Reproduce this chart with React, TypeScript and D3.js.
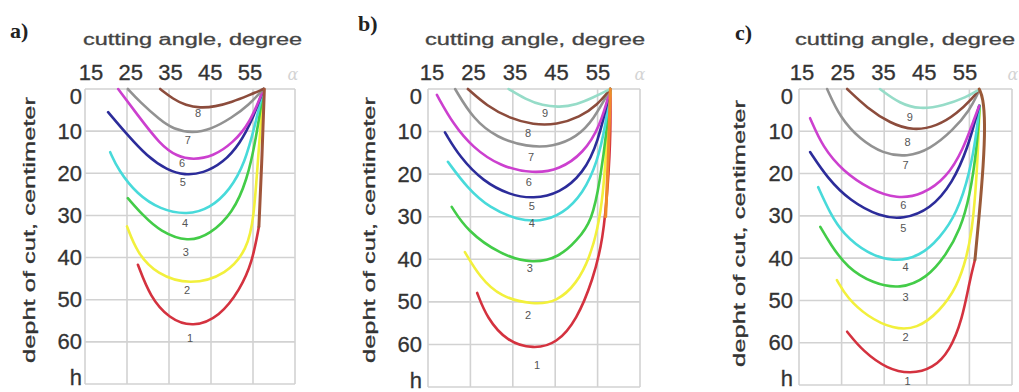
import React from 'react';
import * as d3 from 'd3';

type P = [number, number];

// ---------- shared axis data ----------
const xTickValues = [15, 25, 35, 45, 55];
const yTickValues = [0, 10, 20, 30, 40, 50, 60, 70];
const yTickTexts = ['0', '10', '20', '30', '40', '50', '60', 'h'];
const gridAngles = [15, 25, 35, 45, 55, 65];
const gridDepths = [0, 10, 20, 30, 40, 50, 60, 70];
const titleText = 'cutting angle, degree';
const yAxisText = 'depht of cut, centimeter';
const curveColors = ['#d4323f', '#f2f03c', '#43cc48', '#48dada', '#2c2c9a', '#cc40cf', '#929292', '#8c4c3c', '#96dcc8'];
const tailColorA = '#a0553a';
const tailColorB = '#f08a2a';
const tailColorC = '#9a5a38';

// ---------- panel a: [angle, depth] ----------
const a1: P[] = [[27.6, 41.7], [30.5, 49.3], [35, 54.5], [40.7, 56.6], [47.1, 54], [51.9, 47.6], [54.8, 41.2], [56.4, 32.7]];
const a2: P[] = [[25, 32.6], [27.4, 38.9], [32.1, 44], [40, 46.6], [48.8, 44], [53.6, 38], [55.2, 31], [56.3, 15], [57.5, 0]];
const a3: P[] = [[25.2, 25.9], [28.8, 30], [32.9, 33.8], [39.5, 36.4], [44.8, 34.5], [50.2, 29.4], [53.6, 21.6], [55.7, 12], [57.5, 0]];
const a4: P[] = [[21, 15], [22.9, 19.2], [27.4, 25], [32.9, 28.6], [39.3, 29.9], [44.8, 28.3], [49.5, 24], [53.1, 17.5], [55.5, 8.5], [57.5, 0]];
const a5: P[] = [[20.5, 5.5], [25, 10.8], [29.8, 16], [34.5, 19.2], [38.8, 20.5], [43.1, 20], [47.9, 17.5], [51.9, 13], [55, 7], [57.5, 0]];
const a6: P[] = [[22.9, 0], [27.4, 6], [32.9, 13.2], [36.9, 16], [40.7, 16.8], [45.5, 16], [50.2, 12.8], [54.3, 8.1], [57.5, 0]];
const a7: P[] = [[25.2, 0], [28, 3], [32.9, 7.4], [36, 9.5], [40.5, 10.5], [45, 9.6], [50, 6.8], [54, 3.8], [57.5, 0]];
const a8: P[] = [[32.9, 0], [36, 2.4], [39, 3.9], [42.4, 4.5], [46, 4.2], [50, 3.1], [54, 1.5], [57.5, 0]];
const aTail: P[] = [[56.4, 32.7], [57.2, 15], [57.7, 0]];
const aLabels: P[] = [[40, 59], [39.3, 47.6], [39, 38.6], [38.8, 31.7], [38.3, 22], [38.1, 17.5], [39.5, 12], [41.9, 5.7]];

// ---------- panel b ----------
const b1: P[] = [[26.6, 47.9], [28.9, 53.8], [33.6, 59.3], [39.8, 61.1], [45.4, 59.8], [50.1, 54.2], [53.9, 44.8], [56.3, 35.4], [57.5, 22], [58.1, 10], [58, 0]];
const b2: P[] = [[23.7, 38.3], [27.3, 44.3], [32, 48.8], [39.8, 50.7], [45.4, 50], [50.1, 45.7], [53.2, 39.4], [55, 33], [56.3, 25], [57.2, 12], [58, 0]];
const b3: P[] = [[20.6, 27.7], [24.2, 33.3], [32, 38.9], [39.8, 41.1], [46.1, 39.4], [50.1, 35.6], [53.7, 31], [55.6, 21.4], [57.2, 9.6], [58, 0]];
const b4: P[] = [[19.7, 17.1], [24.2, 23.2], [29.6, 28], [36, 30.7], [41.4, 31.2], [46.8, 29.4], [51.6, 24.5], [54.9, 17.4], [57, 8], [58, 0]];
const b5: P[] = [[19, 10.2], [22.5, 16], [28, 21.7], [34.3, 24.9], [39.8, 25.8], [46.1, 24.5], [51.6, 19.8], [55.1, 12.8], [58, 0]];
const b6: P[] = [[17.1, 1.4], [20.9, 8.2], [25.6, 13.8], [32, 18.2], [39.8, 19.9], [46.1, 18.9], [51.6, 15.1], [55.6, 8.8], [58, 0]];
const b7: P[] = [[21.4, 0], [25.6, 7], [31.3, 11.5], [38.3, 13.6], [44.5, 13.6], [50.1, 11.3], [54, 7.3], [58, 0]];
const b8: P[] = [[24.4, 0], [28.9, 4], [34.3, 6.9], [39.8, 8.4], [45.4, 8.4], [50.8, 6.6], [54.9, 3.8], [58, 0]];
const b9: P[] = [[34, 0], [38, 2.4], [42, 3.9], [46, 4.3], [50, 3.7], [54, 2], [58, 0]];
const bTail: P[] = [[56.9, 30], [57.6, 15], [58, 0]];
const bLabels: P[] = [[40.7, 64.8], [38.6, 53], [39, 42], [39.5, 31.5], [39.5, 27.5], [38.8, 21.8], [39.3, 16], [38.6, 10.3], [42.6, 5.6]];

// ---------- panel c ----------
const c1: P[] = [[26.3, 57.4], [30, 62], [35.7, 66.2], [41.1, 67.4], [46.5, 66.1], [50.4, 61.9], [53.3, 54.6], [55.1, 45.2], [56.3, 40.4]];
const c2: P[] = [[23.9, 45.2], [26.3, 49.4], [31, 53.8], [37.1, 56.8], [42.7, 56.8], [48.1, 52.5], [52.1, 46.8], [54.4, 39.7], [55.6, 33.3], [56.4, 25], [57, 15], [57.4, 4]];
const c3: P[] = [[20, 32.6], [22.3, 36.6], [26.3, 42.3], [32.4, 46], [38.7, 47.3], [45, 44.8], [49.7, 39], [52.8, 33.3], [55.1, 25.5], [56.8, 13.7], [57.4, 4]];
const c4: P[] = [[19.5, 23.2], [22.3, 29.4], [25.3, 34.2], [31, 38.9], [37.1, 40.9], [43.4, 39.6], [48.1, 35.2], [52.1, 29.3], [55.1, 19.9], [56.8, 9.7], [57.3, 4]];
const c5: P[] = [[17.6, 14.9], [21.6, 21], [27, 26.5], [34, 30.2], [39.4, 30.8], [45.8, 28.5], [51.1, 22.2], [54.7, 13.7], [56.8, 5.7], [57.3, 4]];
const c6: P[] = [[17.6, 6.9], [20.6, 13.8], [25.3, 19.4], [31.7, 23.8], [38, 26], [44.1, 25], [49.7, 20.9], [53.5, 14.4], [56.3, 6.6], [57.3, 4]];
const c7: P[] = [[21.6, 0], [24.6, 6.7], [29.3, 11.9], [34.7, 15.3], [40.4, 16.1], [45.8, 14.2], [51.1, 9.8], [55.1, 5], [57, 1]];
const c8: P[] = [[26.3, 0], [31, 4.5], [36.4, 8.1], [41.8, 9.9], [47.4, 8.8], [52.1, 5.8], [55.8, 2.1], [57, 0.5]];
const c9: P[] = [[34, 0], [38.7, 3.5], [43.4, 4.8], [48.8, 4], [54.4, 1.9], [57, 0.3]];
const cTail: P[] = [[56.3, 40.4], [57.3, 30], [58.3, 18], [58.7, 8], [58.2, 2], [57.3, 0]];
const cLabels: P[] = [[40.5, 69], [40, 58.6], [40, 49.2], [40, 42.1], [39.5, 32.9], [39.5, 27.4], [40, 17.9], [40.5, 12.5], [41, 6.6]];

type PanelCfg = {
  letter: string;
  letterX: number;
  letterY: number;
  left: number;
  right: number;
  top: number;
  bottom: number;
  titleX: number;
  titleLen: number;
  tickLabelRange: [number, number];
  yTickRight: number;
  yLabelX: number;
  yLabelTop: number;
  yLabelLen: number;
  alphaX: number;
  curves: P[][];
  tail: P[];
  tailColor: string;
  labels: P[];
};

const panels: PanelCfg[] = [
  {
    letter: 'a)', letterX: 10, letterY: 38, left: 85, right: 295, top: 89, bottom: 384,
    titleX: 83, titleLen: 219, tickLabelRange: [91, 250], yTickRight: 82,
    yLabelX: 35, yLabelTop: 97, yLabelLen: 266, alphaX: 293,
    curves: [a1, a2, a3, a4, a5, a6, a7, a8], tail: aTail, tailColor: tailColorA, labels: aLabels,
  },
  {
    letter: 'b)', letterX: 358, letterY: 31, left: 428, right: 640, top: 89, bottom: 387,
    titleX: 425, titleLen: 220, tickLabelRange: [432, 598], yTickRight: 422,
    yLabelX: 375, yLabelTop: 97, yLabelLen: 266, alphaX: 640,
    curves: [b1, b2, b3, b4, b5, b6, b7, b8, b9], tail: bTail, tailColor: tailColorB, labels: bLabels,
  },
  {
    letter: 'c)', letterX: 735, letterY: 40, left: 799, right: 1012, top: 89, bottom: 385,
    titleX: 795, titleLen: 220, tickLabelRange: [802, 965], yTickRight: 793,
    yLabelX: 745, yLabelTop: 100, yLabelLen: 267, alphaX: 1013,
    curves: [c1, c2, c3, c4, c5, c6, c7, c8, c9], tail: cTail, tailColor: tailColorC, labels: cLabels,
  },
];

const SANS = "'Liberation Sans', Arial, sans-serif";
const TEXT = '#333';

function Panel({ cfg }: { cfg: PanelCfg }) {
  const x = d3.scaleLinear().domain([15, 65]).range([cfg.left, cfg.right]);
  const y = d3.scaleLinear().domain([0, 70]).range([cfg.top, cfg.bottom]);
  const xl = d3.scaleLinear().domain([15, 55]).range(cfg.tickLabelRange);
  const line = d3
    .line<P>()
    .x((d) => x(d[0]))
    .y((d) => y(d[1]))
    .curve(d3.curveBasis);

  return (
    <g>
      {gridAngles.map((a) => (
        <line key={'v' + a} x1={x(a)} x2={x(a)} y1={y(0)} y2={y(70)} stroke="#d2d2d2" strokeWidth={1.6} />
      ))}
      {gridDepths.map((d) => (
        <line key={'h' + d} x1={x(15)} x2={x(65)} y1={y(d)} y2={y(d)} stroke="#d2d2d2" strokeWidth={1.6} />
      ))}

      <text x={cfg.letterX} y={cfg.letterY} fontFamily="'Liberation Serif', 'Times New Roman', serif" fontWeight="bold" fontSize={22} fill="#222">
        {cfg.letter}
      </text>

      <text x={cfg.titleX} y={45} fontFamily={SANS} fontSize={16} fill="#444" stroke="#444" strokeWidth={0.3} textLength={cfg.titleLen} lengthAdjust="spacingAndGlyphs">
        {titleText}
      </text>

      {xTickValues.map((v) => (
        <text key={'xt' + v} x={xl(v)} y={80} textAnchor="middle" fontFamily={SANS} fontSize={22} fill={TEXT} stroke={TEXT} strokeWidth={0.3}>
          {v}
        </text>
      ))}
      <text x={cfg.alphaX} y={80} textAnchor="middle" fontFamily="'DejaVu Serif', serif" fontStyle="italic" fontSize={16} fill="#d4d4d4">
        α
      </text>

      {yTickValues.map((v, i) => {
        let yy = y(v);
        if (i === 0) yy += 7;
        if (i === yTickValues.length - 1) yy -= 7;
        return (
          <text key={'yt' + v} x={cfg.yTickRight} y={yy} textAnchor="end" dominantBaseline="central" fontFamily={SANS} fontSize={22} fill={TEXT} stroke={TEXT} strokeWidth={0.3}>
            {yTickTexts[i]}
          </text>
        );
      })}

      <text
        transform={`translate(${cfg.yLabelX},${cfg.yLabelTop + cfg.yLabelLen}) rotate(-90)`}
        fontFamily={SANS}
        fontSize={17}
        fill={TEXT}
        stroke={TEXT}
        strokeWidth={0.3}
        textLength={cfg.yLabelLen}
        lengthAdjust="spacingAndGlyphs"
      >
        {yAxisText}
      </text>

      {cfg.curves.map((c, i) => (
        <path key={'c' + i} d={line(c) || ''} fill="none" stroke={curveColors[i]} strokeWidth={2.6} strokeLinecap="round" />
      ))}
      <path d={line(cfg.tail) || ''} fill="none" stroke={cfg.tailColor} strokeWidth={3} strokeLinecap="round" />

      {cfg.labels.map((p, i) => (
        <text key={'l' + i} x={x(p[0])} y={y(p[1])} textAnchor="middle" dominantBaseline="central" fontFamily={SANS} fontSize={11} fill="#555">
          {i + 1}
        </text>
      ))}
    </g>
  );
}

export default function App() {
  return (
    <svg width={1019} height={392} viewBox="0 0 1019 392" style={{ position: 'absolute', left: 0, top: 0, background: '#fff' }}>
      <rect x={0} y={0} width={1019} height={392} fill="#fff" />
      {panels.map((p) => (
        <Panel key={p.letter} cfg={p} />
      ))}
    </svg>
  );
}
